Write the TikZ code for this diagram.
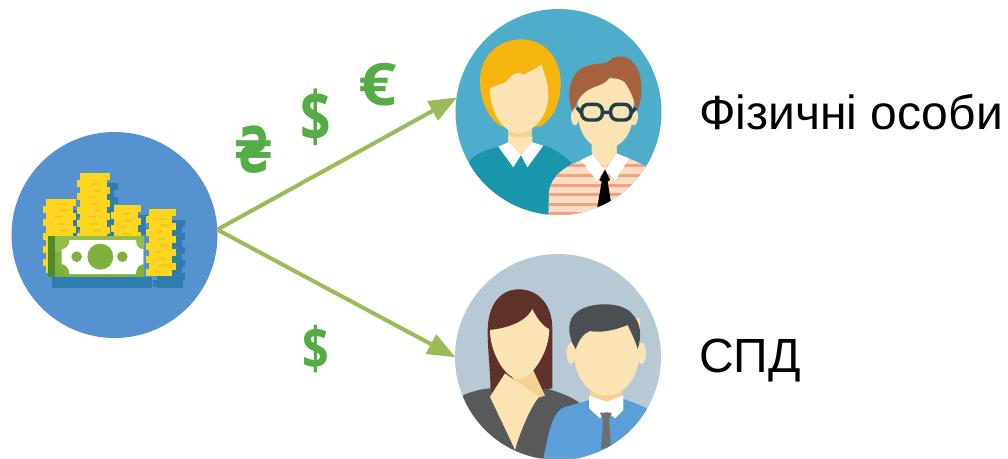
\documentclass[tikz,border=0pt]{standalone}
\usepackage{fontspec}
\usetikzlibrary{arrows.meta}
\setmainfont{Liberation Sans}
\newfontfamily\curfont{Open Sans}
\newfontfamily\hryvnia{DejaVu Sans}
\definecolor{arrowgreen}{HTML}{9BBB59}
\definecolor{curgreen}{HTML}{55AB44}
\definecolor{moneybg}{HTML}{5592CF}
\definecolor{onebg}{HTML}{4DADCB}
\definecolor{twobg}{HTML}{B8C9D6}
\definecolor{coinshadow}{HTML}{2E7DB0}
\definecolor{coin}{HTML}{FFD61F}
\definecolor{coindark}{HTML}{FAC425}
\definecolor{notegreen}{HTML}{7FB13C}
\definecolor{notetop}{HTML}{93BE48}
\definecolor{notedark}{HTML}{4F8A2A}
\definecolor{skin}{HTML}{FCE3B4}
\definecolor{skindark}{HTML}{F3D294}
\definecolor{blond}{HTML}{F5B50E}
\definecolor{teal}{HTML}{1A96AC}
\definecolor{brownhair}{HTML}{A6623C}
\definecolor{stripebase}{HTML}{FBDCC4}
\definecolor{stripe}{HTML}{F2A07E}
\definecolor{glass}{HTML}{1F3F4A}
\definecolor{darkhair}{HTML}{5E3229}
\definecolor{jacket}{HTML}{58595B}
\definecolor{bluesuit}{HTML}{5A9FD8}
\definecolor{greyhair}{HTML}{4A4F54}
\definecolor{greytie}{HTML}{6D6E70}
\tikzset{
  disc/.style={circle,minimum size=154.5pt,inner sep=0pt,outer sep=0pt},
  flow/.style={draw=arrowgreen,line width=3pt,-{Triangle[length=21pt,width=16pt]},shorten >=-0.5pt},
  label/.style={anchor=base west,inner sep=0pt,font=\fontsize{36}{40}\selectfont},
  cur/.style={inner sep=0pt,text=curgreen},
  crop/.style={x=0.25pt,y=-0.25pt}
}
% #1 left #2 right #3 top #4 bottom #5 colour : a jagged stack of coins, in crop units
\newcommand{\coinstack}[5]{%
  \foreach \yy [count=\ii] in {#3,\the\numexpr#3+20\relax,...,#4}{%
    \pgfmathsetmacro{\off}{mod(\ii,2)*10-5}%
    \fill[#5] ({#1+\off},\yy) rectangle ({#2+\off},\yy+21);%
  }%
}
\newcommand{\coinmarks}[3]{%
  \foreach \yy [count=\ii] in {#2,\the\numexpr#2+20\relax,...,#3}{%
    \pgfmathsetmacro{\off}{mod(\ii,3)*8}%
    \fill[coindark] ({#1+\off},\yy+8) rectangle ({#1+\off+22},\yy+15);%
  }%
}
\begin{document}
\begin{tikzpicture}[x=0.75pt,y=-0.75pt]
\useasboundingbox (0,0) rectangle (1008,458);
\fill[white] (0,0) rectangle (1008,458);

% discs
\node[disc,fill=moneybg] (money) at (114.5,235) {};
\node[disc,fill=onebg] (one) at (558.5,112) {};
\node[disc,fill=twobg] (two) at (558,357) {};

% money icon
\begin{scope}[shift={(0,120)},crop]
  \coinstack{255}{348}{190}{340}{coinshadow}
  \coinstack{150}{240}{270}{340}{coinshadow}
  \coinstack{350}{440}{285}{340}{coinshadow}
  \coinstack{465}{550}{300}{480}{coinshadow}
  \fill[coinshadow] (155,470) rectangle (455,503);
  \fill[coinshadow] (470,480) rectangle (550,503);
  \coinstack{133}{224}{238}{450}{coin}
  \coinstack{236}{326}{160}{340}{coin}
  \coinstack{338}{418}{255}{340}{coin}
  \coinstack{442}{522}{268}{455}{coin}
  \coinmarks{165}{240}{340}
  \coinmarks{265}{180}{340}
  \coinmarks{360}{270}{340}
  \coinmarks{465}{285}{450}
  \fill[notegreen] (145,347) rectangle (432,472);
  \fill[notetop] (165,347) rectangle (432,395);
  \fill[notedark] (145,347) rectangle (165,472);
  \fill[white] (208,360) -- (408,360) .. controls (408,378) and (416,386) .. (430,388)
     -- (430,432) .. controls (416,434) and (408,445) .. (408,462)
     -- (208,462) .. controls (208,445) and (198,434) .. (185,432)
     -- (185,388) .. controls (198,386) and (208,378) .. (208,360) -- cycle;
  \fill[notegreen] (301,410) circle (39);
  \fill[notegreen] (230,410) circle (16);
  \fill[notegreen] (367,410) circle (16);
\end{scope}

% physical persons
\begin{scope}
\clip (558.5,112) circle (103);
\begin{scope}[shift={(445,5)},crop]
  \fill[blond] (228,103) .. controls (300,103) and (347,160) .. (347,235)
     .. controls (347,300) and (320,345) .. (285,365)
     -- (170,365) .. controls (130,340) and (105,290) .. (105,225)
     .. controls (105,155) and (160,103) .. (228,103) -- cycle;
  \fill[teal] (30,640) -- (75,465) .. controls (95,445) and (130,432) .. (160,425)
     -- (295,420) .. controls (325,430) and (355,450) .. (378,472) -- (400,640) -- cycle;
  \fill[skindark] (190,360) rectangle (262,432);
  \fill[skin] (228,450) -- (190,415) -- (190,395) -- (262,395) -- (262,415) -- cycle;
  \fill[white] (160,425) -- (190,412) -- (228,450) -- (205,487) -- cycle;
  \fill[white] (262,412) -- (295,422) -- (247,487) -- (228,450) -- cycle;
  \fill[skin] (135,250) .. controls (160,240) and (180,230) .. (182,232)
     .. controls (200,205) and (230,195) .. (232,210)
     .. controls (255,200) and (280,185) .. (290,178)
     .. controls (298,210) and (312,235) .. (310,280)
     .. controls (305,340) and (260,385) .. (222,385)
     .. controls (180,385) and (135,330) .. (135,250) -- cycle;
  % man
  \begin{scope}
    \clip (310,640) -- (312,560) .. controls (320,510) and (360,485) .. (410,465)
     -- (550,460) .. controls (570,468) and (590,475) .. (605,487) -- (640,640) -- cycle;
    \fill[stripebase] (300,440) rectangle (640,640);
    \foreach \yy in {478,507,536,565,594,622}{
      \fill[stripe] (300,\yy) rectangle (640,\yy+9);
    }
  \end{scope}
  \fill[skindark] (440,405) rectangle (515,470);
  \fill[skin] (440,440) -- (480,490) -- (515,440) -- (515,420) -- (440,420) -- cycle;
  \fill[white] (408,465) -- (443,448) -- (480,495) -- (455,527) -- cycle;
  \fill[white] (515,445) -- (552,460) -- (510,527) -- (480,495) -- cycle;
  \fill[black] (480,493) -- (495,525) -- (488,530) -- (498,592) -- (457,606) -- (470,530) -- (463,525) -- cycle;
  \fill[skin] (390,335) circle (12 and 26);
  \fill[skin] (567,335) circle (12 and 26);
  \fill[skin] (395,220) -- (400,345) .. controls (410,400) and (440,430) .. (480,432)
     .. controls (525,430) and (555,395) .. (563,345) -- (570,220) -- cycle;
  \fill[brownhair] (383,320) .. controls (365,280) and (370,215) .. (410,190)
     .. controls (440,172) and (470,180) .. (490,170)
     .. controls (505,150) and (550,145) .. (570,180)
     .. controls (595,215) and (595,280) .. (575,320)
     .. controls (570,290) and (560,265) .. (545,240)
     .. controls (530,215) and (510,225) .. (495,215)
     .. controls (485,235) and (465,240) .. (450,245)
     .. controls (430,255) and (405,260) .. (383,320) -- cycle;
  \draw[glass,line width=2.6pt,rounded corners=5pt] (410,298) rectangle (472,345);
  \draw[glass,line width=2.6pt,rounded corners=5pt] (497,298) rectangle (558,345);
  \draw[glass,line width=2.6pt] (472,322) -- (497,322) (410,325) -- (396,308) (558,325) -- (572,308);
\end{scope}
\end{scope}

% entrepreneurs
\begin{scope}
\clip (558,357) circle (103);
\begin{scope}[shift={(445,245)},crop]
  \fill[darkhair] (222,133) .. controls (280,133) and (322,180) .. (322,250)
     -- (322,430) -- (135,465) .. controls (140,400) and (128,330) .. (128,260)
     .. controls (128,180) and (165,133) .. (222,133) -- cycle;
  \fill[jacket] (30,640) -- (55,450) .. controls (90,437) and (110,432) .. (135,430)
     -- (150,465) -- (280,450) -- (300,430) .. controls (340,440) and (380,455) .. (405,475) -- (420,640) -- cycle;
  \fill[skindark] (188,370) -- (262,370) -- (300,452) -- (240,470) -- cycle;
  \fill[skin] (180,385) -- (135,455) .. controls (165,520) and (190,570) .. (210,615)
     .. controls (225,560) and (255,490) .. (282,455) -- (215,410) -- cycle;
  \fill[skin] (135,255) .. controls (180,250) and (240,235) .. (262,192)
     .. controls (275,220) and (295,245) .. (312,252)
     .. controls (316,310) and (265,400) .. (222,402)
     .. controls (178,400) and (135,320) .. (135,255) -- cycle;
  % man
  \fill[bluesuit] (295,640) .. controls (310,570) and (320,510) .. (350,490)
     .. controls (375,480) and (405,475) .. (432,465) -- (535,462)
     .. controls (560,470) and (585,480) .. (605,490) -- (640,640) -- cycle;
  \fill[skindark] (435,430) rectangle (530,475);
  \fill[white] (432,452) -- (485,470) -- (535,452) -- (535,495) -- (510,520) -- (485,500) -- (465,520) -- (432,490) -- cycle;
  \fill[greytie] (465,503) -- (500,503) -- (492,525) -- (498,605) -- (468,612) -- (474,525) -- cycle;
  \fill[skin] (378,325) circle (13 and 32);
  \fill[skin] (590,325) circle (13 and 32);
  \fill[skin] (385,220) -- (388,340) .. controls (395,410) and (440,452) .. (485,452)
     .. controls (530,452) and (575,410) .. (582,340) -- (585,220) -- cycle;
  \fill[greyhair] (392,312) .. controls (365,270) and (365,220) .. (400,198)
     .. controls (440,170) and (530,170) .. (560,205)
     .. controls (590,235) and (590,275) .. (578,312)
     .. controls (570,285) and (560,265) .. (548,240)
     .. controls (510,255) and (470,265) .. (435,258)
     .. controls (415,265) and (402,285) .. (392,312) -- cycle;
\end{scope}
\end{scope}

% connectors
\draw[flow] (money.3.3) -- (one.172.8);
\draw[flow] (money.3.3) -- (two.west);

% currency signs
\node[cur,xscale=0.82,yscale=1.15,font=\hryvnia\bfseries\fontsize{41}{41}\selectfont] (uah) at (254,150) {₴};
\node[cur,yscale=1.3,font=\curfont\bfseries\fontsize{40}{40}\selectfont] (usda) at (315.5,117.5) {\$};
\node[cur,xscale=1.2,yscale=1.05,font=\curfont\bfseries\fontsize{42}{42}\selectfont] (eur) at (377.5,85) {€};
\node[cur,yscale=1.25,font=\curfont\bfseries\fontsize{35}{35}\selectfont] (usdb) at (315.5,349) {\$};

% labels
\node[label] (fiz) at (699,129.3) {Фізичні особи};
\node[label] (spd) at (699,372.5) {СПД};
\end{tikzpicture}
\end{document}
